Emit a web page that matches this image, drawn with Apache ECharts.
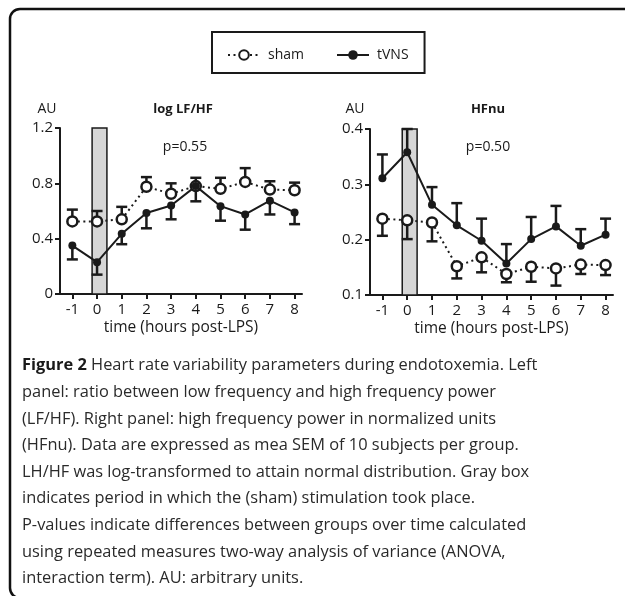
<!DOCTYPE html>
<html>
<head>
    <meta charset="UTF-8">
    <title>Heart rate variability</title>
    <script src="https://cdn.jsdelivr.net/npm/echarts@6/dist/echarts.min.js"></script>
    <style>
        html, body { margin: 0; padding: 0; background: #fff; }
        #main { width: 625px; height: 596px; }
    </style>
</head>
<body>
<div id="main"></div>
<script type="text/javascript">
    // hours relative to LPS
    var hours = [-1, 0, 1, 2, 3, 4, 5, 6, 7, 8];

    // left panel: log LF/HF (mean, SEM)
    var lfhfSham = [0.525, 0.525, 0.54, 0.775, 0.725, 0.78, 0.76, 0.81, 0.755, 0.75];
    var lfhfShamSem = [0.085, 0.075, 0.09, 0.07, 0.075, 0.06, 0.08, 0.10, 0.06, 0.055];
    var lfhfTvns = [0.35, 0.23, 0.435, 0.585, 0.64, 0.78, 0.635, 0.575, 0.675, 0.59];
    var lfhfTvnsSem = [0.10, 0.09, 0.075, 0.11, 0.10, 0.11, 0.105, 0.11, 0.10, 0.085];

    // right panel: HFnu (mean, SEM)
    var hfnuSham = [0.238, 0.235, 0.231, 0.152, 0.168, 0.138, 0.151, 0.148, 0.155, 0.154];
    var hfnuShamSem = [0.031, 0.034, 0.034, 0.022, 0.027, 0.015, 0.027, 0.031, 0.017, 0.018];
    var hfnuTvns = [0.311, 0.358, 0.263, 0.226, 0.198, 0.157, 0.201, 0.224, 0.189, 0.209];
    var hfnuTvnsSem = [0.043, 0.042, 0.032, 0.04, 0.04, 0.035, 0.04, 0.037, 0.03, 0.029];

    // stimulation period (gray box), hours
    var stimBox = [-0.2, 0.4];

    var captionLines = [
        '{b|Figure 2} Heart rate variability parameters during endotoxemia. Left',
        'panel: ratio between low frequency and high frequency power',
        '(LF/HF). Right panel: high frequency power in normalized units',
        '(HFnu). Data are expressed as mea SEM of 10 subjects per group.',
        'LH/HF was log-transformed to attain normal distribution. Gray box',
        'indicates period in which the (sham) stimulation took place.',
        'P-values indicate differences between groups over time calculated',
        'using repeated measures two-way analysis of variance (ANOVA,',
        'interaction term). AU: arbitrary units.'
    ];

    var FONT = '"Open Sans", "DejaVu Sans", sans-serif';
    var INK = '#1a1a1a';

    function pairs(means) {
        return hours.map(function (h, i) { return [h, means[i]]; });
    }

    // dir = 1 -> bar goes up, -1 -> down
    function errData(means, sems, dir) {
        return hours.map(function (h, i) { return [h, means[i], means[i] + dir * sems[i]]; });
    }

    function renderErr(params, api) {
        var p0 = api.coord([api.value(0), api.value(1)]);
        var p1 = api.coord([api.value(0), api.value(2)]);
        var style = { stroke: INK, lineWidth: 2.5 };
        return {
            type: 'group',
            children: [
                { type: 'line', shape: { x1: p0[0], y1: p0[1], x2: p1[0], y2: p1[1] }, style: style },
                { type: 'line', shape: { x1: p1[0] - 5.5, y1: p1[1], x2: p1[0] + 5.5, y2: p1[1] }, style: style }
            ]
        };
    }

    function xAxisFor(idx) {
        return {
            type: 'value', gridIndex: idx, min: -1.5, max: 8.3,
            name: 'time (hours post-LPS)', nameLocation: 'middle', nameGap: 26,
            nameTextStyle: { fontFamily: FONT, fontSize: 15.5, color: INK },
            axisLine: { onZero: false, lineStyle: { color: INK, width: 2 } },
            axisTick: { show: true, length: 5, customValues: hours, lineStyle: { color: INK, width: 2 } },
            axisLabel: { customValues: hours, margin: 8, fontFamily: FONT, fontSize: 15, color: INK },
            splitLine: { show: false }
        };
    }

    function yAxisFor(idx, min, max, step) {
        return {
            type: 'value', gridIndex: idx, min: min, max: max, interval: step,
            axisLine: { show: true, onZero: false, lineStyle: { color: INK, width: 2 } },
            axisTick: { show: true, length: 5, lineStyle: { color: INK, width: 2 } },
            axisLabel: { margin: 7, fontFamily: FONT, fontSize: 15, color: INK },
            splitLine: { show: false }
        };
    }

    function lineSeries(name, idx, values, hollow) {
        return {
            name: name, type: 'line', xAxisIndex: idx, yAxisIndex: idx,
            data: pairs(values), z: 3,
            symbol: 'circle',
            symbolSize: hollow ? 10 : 8,
            itemStyle: { color: hollow ? '#fff' : INK, borderColor: INK, borderWidth: hollow ? 2.5 : 0 },
            lineStyle: { color: INK, width: 2, type: hollow ? [2, 3.5] : 'solid' },
            animation: false
        };
    }

    function errSeries(idx, means, sems, dir) {
        return {
            type: 'custom', xAxisIndex: idx, yAxisIndex: idx, z: 2,
            data: errData(means, sems, dir), renderItem: renderErr, silent: true,
            animation: false
        };
    }

    function boxSeries(idx) {
        return {
            type: 'line', xAxisIndex: idx, yAxisIndex: idx, data: [], z: 1, silent: true,
            markArea: {
                silent: true,
                itemStyle: { color: '#d6d6d6', borderColor: INK, borderWidth: 1.5 },
                data: [[{ xAxis: stimBox[0] }, { xAxis: stimBox[1] }]]
            }
        };
    }

    function label(text, x, y, bold) {
        return {
            type: 'text', silent: true,
            style: {
                text: text, x: x, y: y, align: 'center', verticalAlign: 'middle',
                font: (bold ? 'bold 13px ' : '14px ') + FONT, fill: INK
            }
        };
    }

    var chart = echarts.init(document.getElementById('main'));

    var option = {
        backgroundColor: '#fff',
        animation: false,
        title: [{
            text: captionLines.join('\n'), left: 22, top: 352.5, padding: 0,
            textStyle: {
                fontFamily: FONT, fontSize: 16.4, fontWeight: 'normal', color: '#2a2a2a', lineHeight: 26.6,
                rich: { b: { fontFamily: FONT, fontSize: 16.4, fontWeight: 'bold', color: '#1a1a1a', lineHeight: 26.6 } }
            }
        }],
        legend: {
            data: ['sham', 'tVNS'], left: 212, top: 32,
            itemWidth: 32, itemHeight: 12, itemGap: 32,
            padding: [16, 16, 11, 15],
            borderColor: INK, borderWidth: 2,
            textStyle: { fontFamily: FONT, fontSize: 14, color: INK, padding: [0, 0, 0, 3] }
        },
        grid: [
            { left: 60, top: 128, width: 242, height: 166 },
            { left: 370, top: 129, width: 243, height: 166 }
        ],
        xAxis: [xAxisFor(0), xAxisFor(1)],
        yAxis: [yAxisFor(0, 0, 1.2, 0.4), yAxisFor(1, 0.1, 0.4, 0.1)],
        graphic: [
            {
                type: 'rect', silent: true,
                shape: { x: 10, y: 9, width: 700, height: 589, r: 10 },
                style: { fill: 'none', stroke: '#111', lineWidth: 2.5 }
            },
            label('AU', 47, 109),
            label('log LF/HF', 183, 109, true),
            label('p=0.55', 185, 147),
            label('AU', 355, 109),
            label('HFnu', 488, 109, true),
            label('p=0.50', 488, 147)
        ],
        series: [
            boxSeries(0),
            errSeries(0, lfhfSham, lfhfShamSem, 1),
            errSeries(0, lfhfTvns, lfhfTvnsSem, -1),
            lineSeries('sham', 0, lfhfSham, true),
            lineSeries('tVNS', 0, lfhfTvns, false),
            boxSeries(1),
            errSeries(1, hfnuTvns, hfnuTvnsSem, 1),
            errSeries(1, hfnuSham, hfnuShamSem, -1),
            lineSeries('sham', 1, hfnuSham, true),
            lineSeries('tVNS', 1, hfnuTvns, false)
        ]
    };

    chart.setOption(option);
</script>
</body>
</html>
